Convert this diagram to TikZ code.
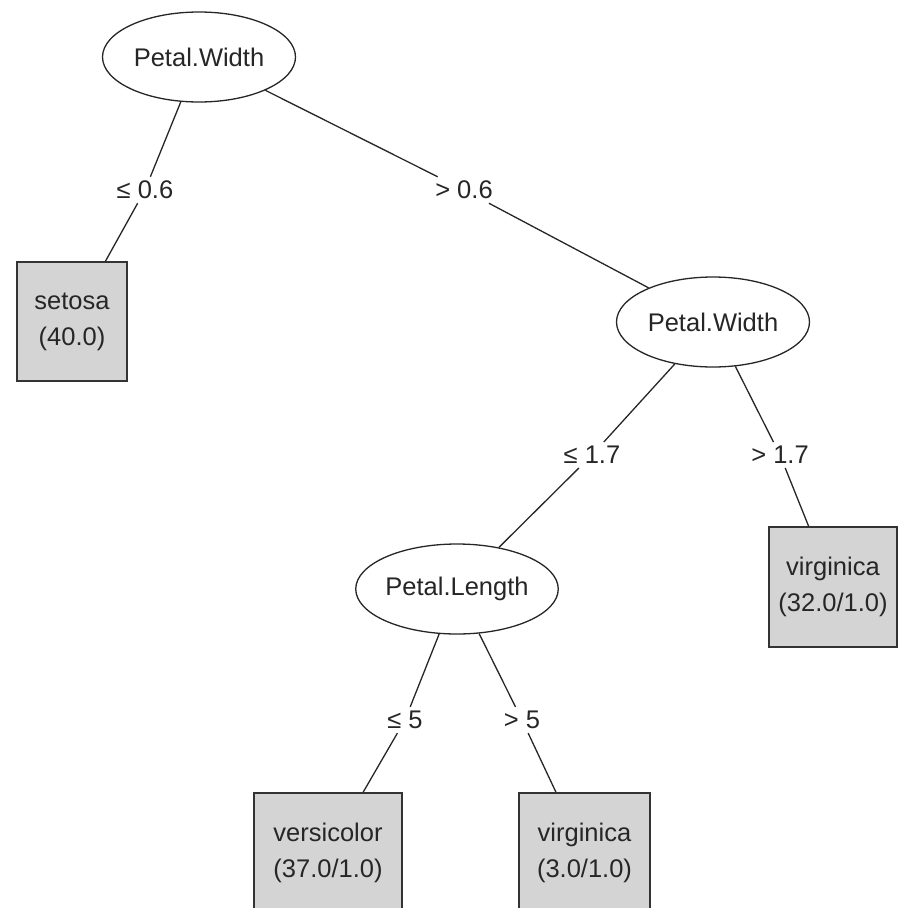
\documentclass[tikz,border=0pt]{standalone}
\usepackage{fontspec}
\setmainfont{Liberation Sans}
\usetikzlibrary{shapes.geometric}
\begin{document}
\begin{tikzpicture}[x=1pt,y=-1pt,
  every node/.style={font=\fontsize{25.5}{36}\selectfont, text=black!85},
  split/.style={ellipse, draw=black!85, line width=1.3pt, minimum width=193pt, minimum height=90pt, inner sep=0pt, fill=white},
  leaf/.style={rectangle, draw=black!80, line width=1.3pt, fill=black!17, align=center, inner sep=0pt},
  cond/.style={fill=white, inner sep=4pt},
  edge/.style={draw=black!85, line width=1.3pt}]
\clip (0,0) rectangle (902,908);
\useasboundingbox (0,0) rectangle (902,908);
% nodes
\node[split] (n1) at (199,57) {Petal.Width};
\node[split] (n3) at (713,322) {Petal.Width};
\node[split] (n4) at (457,589) {Petal.Length};
\node[leaf, minimum width=110pt, minimum height=119pt] (l2) at (72,321.5) {setosa\\(40.0)};
\node[leaf, minimum width=128pt, minimum height=120pt] (l7) at (833,587) {virginica\\(32.0/1.0)};
\node[leaf, minimum width=148pt, minimum height=120pt] (l5) at (328,853) {versicolor\\(37.0/1.0)};
\node[leaf, minimum width=131pt, minimum height=120pt] (l6) at (584.5,853) {virginica\\(3.0/1.0)};
% condition labels
\node[cond] (c1) at (145,190) {≤ 0.6};
\node[cond] (c2) at (464,190) {> 0.6};
\node[cond] (c3) at (592,455) {≤ 1.7};
\node[cond] (c4) at (780,455) {> 1.7};
\node[cond] (c5) at (405,720) {≤ 5};
\node[cond] (c6) at (522,720) {> 5};
% edges
\path[edge] (n1) -- (c1); \path[edge] (c1) -- (l2);
\path[edge] (n1) -- (c2); \path[edge] (c2) -- (n3);
\path[edge] (n3) -- (c3); \path[edge] (c3) -- (n4);
\path[edge] (n3) -- (c4); \path[edge] (c4) -- (l7);
\path[edge] (n4) -- (c5); \path[edge] (c5) -- (l5);
\path[edge] (n4) -- (c6); \path[edge] (c6) -- (l6);
\end{tikzpicture}
\end{document}
